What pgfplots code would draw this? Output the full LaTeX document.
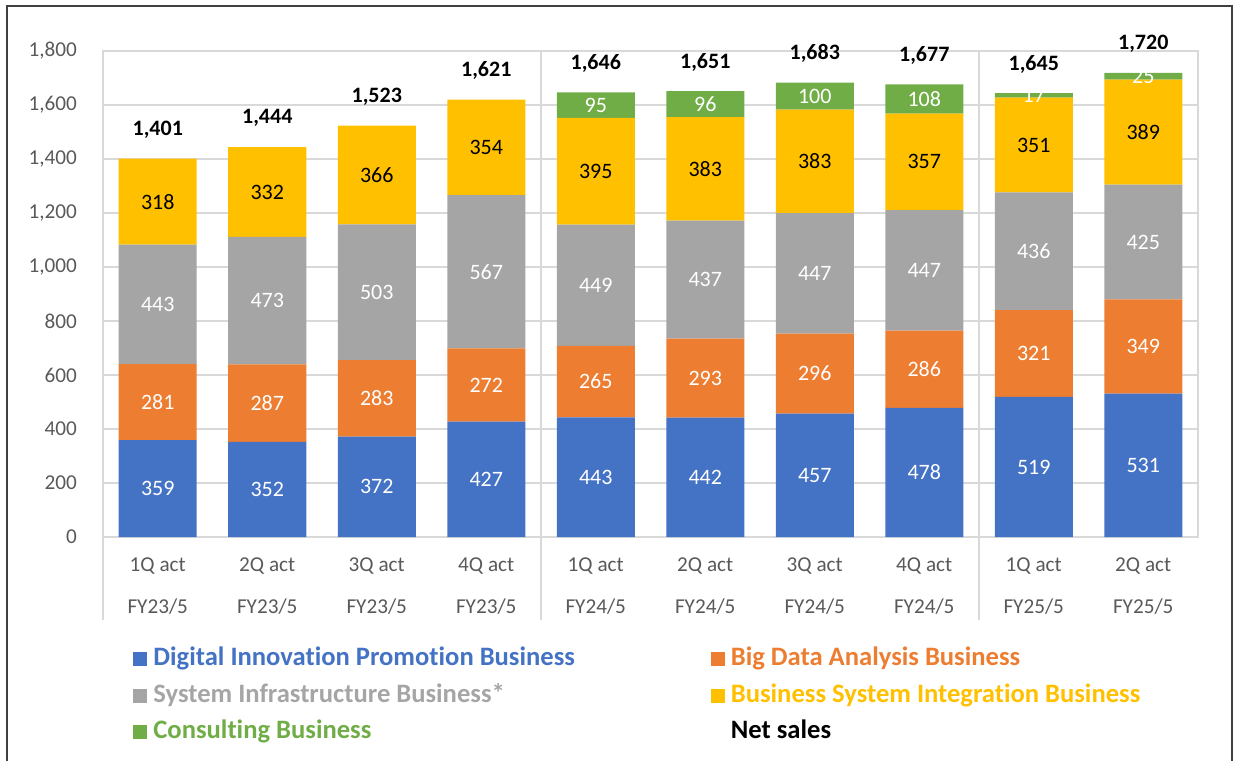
\documentclass[border=0pt]{standalone}
\usepackage{pgfplots}
\pgfplotsset{compat=1.18}
\usepackage{pgfplotstable}
\usepackage{fontspec}
\setmainfont{Carlito}[Ligatures=NoCommon]
\definecolor{cblue}{HTML}{4472C4}
\definecolor{corange}{HTML}{ED7D31}
\definecolor{cgray}{HTML}{A5A5A5}
\definecolor{cyellow}{HTML}{FFC000}
\definecolor{cgreen}{HTML}{70AD47}
\definecolor{gridc}{HTML}{D9D9D9}
\definecolor{tickc}{HTML}{595959}
\definecolor{framec}{HTML}{404040}

\pgfplotstableread{
x a b c d e t
0 359 281 443 318 0 1401
1 352 287 473 332 0 1444
2 372 283 503 366 0 1523
3 427 272 567 354 0 1621
4 443 265 449 395 95 1646
5 442 293 437 383 96 1651
6 457 296 447 383 100 1683
7 478 286 447 357 108 1677
8 519 321 436 351 17 1645
9 531 349 425 389 25 1720
}\data

\pgfplotsset{
  seg/.style={
    nodes near coords={\pgfmathfloatifflags{\pgfplotspointmeta}{0}{}{\pgfmathprintnumber{\pgfplotspointmeta}}},
    every node near coord/.append style={font=\fontsize{11}{12}\selectfont, anchor=center}
  },
  frame/.style={
    at={(51.5pt,112pt)}, anchor=south west,
    width=547.5pt, height=243pt, scale only axis,
    xmin=-0.5, xmax=9.5, ymin=0, ymax=1800,
    clip=false,
    /pgf/number format/1000 sep={,},
    /pgf/number format/assume math mode=true,
  }
}

\begin{document}
\begin{tikzpicture}[x=1pt,y=1pt]
\useasboundingbox (0,0) rectangle (619,380.5);
\draw[framec, line width=0.9pt] (3.5,0) -- (3.5,377.5) -- (616,377.5) -- (616,0);
\begin{axis}[
  frame,
  ybar stacked, bar width=39pt,
  xtick={0,...,9},
  xticklabels={{1Q act\\FY23/5},{2Q act\\FY23/5},{3Q act\\FY23/5},{4Q act\\FY23/5},
               {1Q act\\FY24/5},{2Q act\\FY24/5},{3Q act\\FY24/5},{4Q act\\FY24/5},
               {1Q act\\FY25/5},{2Q act\\FY25/5}},
  ytick={0,200,...,1800},
  ymajorgrids, grid style={draw=gridc, line width=0.75pt},
  axis line style={draw=gridc, line width=0.75pt},
  major tick length=0pt,
  tick label style={font=\fontsize{10.6}{21}\selectfont, text=tickc},
  xticklabel style={align=center, yshift=-7pt},
  yticklabel style={xshift=-9.5pt},
  point meta=explicit,
  legend columns=2,
  legend cell align=left,
  legend image code/.code={\fill[#1] (0pt,-3.5pt) rectangle (7pt,3.5pt);},
  legend style={at={(0.0274,-0.2253)}, anchor=north west, draw=none, fill=none,
    inner sep=0pt, column sep=0pt, row sep=5.75pt,
    font=\fontsize{13.3}{15}\selectfont\bfseries,
    nodes={inner sep=0pt, inner xsep=3pt, text height=9.5pt, text depth=3pt},
    /tikz/every even column/.append style={column sep=65pt}},
]
\addplot[fill=cblue, draw=none, seg, every node near coord/.append style={text=white}] table[x=x, y=a, meta=a] {\data};
\addlegendentry{\textcolor{cblue}{Digital Innovation Promotion Business}}
\addplot[fill=corange, draw=none, seg, every node near coord/.append style={text=white}] table[x=x, y=b, meta=b] {\data};
\addlegendentry{\textcolor{corange}{Big Data Analysis Business}}
\addplot[fill=cgray, draw=none, seg, every node near coord/.append style={text=white}] table[x=x, y=c, meta=c] {\data};
\addlegendentry{\textcolor{cgray}{System Infrastructure Business*}}
\addplot[fill=cyellow, draw=none, seg, every node near coord/.append style={text=black}] table[x=x, y=d, meta=d] {\data};
\addlegendentry{\textcolor{cyellow}{Business System Integration Business}}
\addplot[fill=cgreen, draw=none, seg, every node near coord/.append style={text=white}] table[x=x, y=e, meta=e] {\data};
\addlegendentry{\textcolor{cgreen}{Consulting Business}}
\addlegendimage{legend image code/.code={}}
\addlegendentry{Net sales}
\draw[gridc, line width=0.75pt] (axis cs:3.5,1800) -- (axis cs:3.5,0) -- ++(0pt,-41.5pt);
\draw[gridc, line width=0.75pt] (axis cs:7.5,1800) -- (axis cs:7.5,0) -- ++(0pt,-41.5pt);
\draw[gridc, line width=0.75pt] (axis cs:-0.5,0) -- ++(0pt,-41.5pt);
\end{axis}
\begin{axis}[frame, hide axis]
\addplot[draw=none, mark=none, nodes near coords, point meta=explicit,
  every node near coord/.append style={font=\fontsize{11}{12}\selectfont\bfseries, text=black, anchor=center, yshift=14.4pt}]
  table[x=x, y=t, meta=t] {\data};
\end{axis}
\end{tikzpicture}
\end{document}
